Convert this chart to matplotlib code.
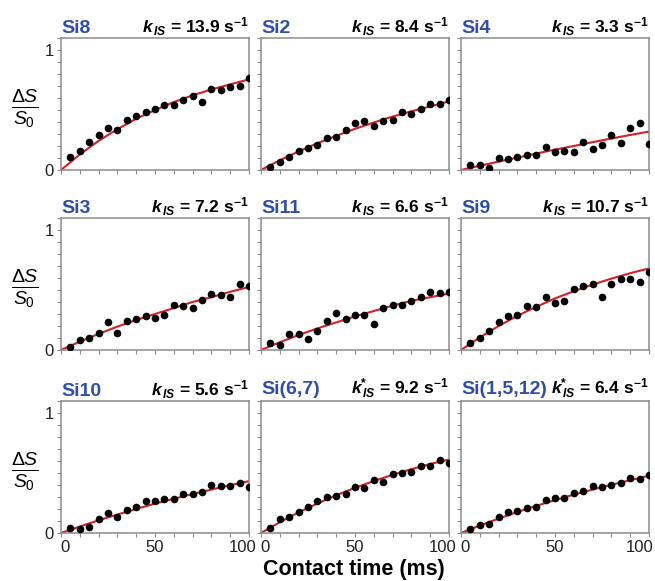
#!/usr/bin/env python3

import matplotlib
matplotlib.use('Agg')
import matplotlib.pyplot as plt
import matplotlib.transforms as mtransforms
from matplotlib.ticker import MultipleLocator, FixedLocator


# ------------------------------------------------------------------------------
# data
#
t_ms  = [5, 10, 15, 20, 25, 30, 35, 40, 45, 50,
         55, 60, 65, 70, 75, 80, 85, 90, 95, 100]
fit_t = [0, 10, 20, 30, 40, 50, 60, 70, 80, 90, 100]

names = ['Si8', 'Si2', 'Si4',
         'Si3', 'Si11', 'Si9',
         'Si10', 'Si(6,7)', 'Si(1,5,12)']
k_is  = ['13.9', '8.4', '3.3',
         '7.2', '6.6', '10.7',
         '5.6', '9.2', '6.4']
star  = [False, False, False,
         False, False, False,
         False, True, True]

si8_pts  = [0.11, 0.155, 0.23, 0.29, 0.35, 0.335, 0.42, 0.45, 0.48, 0.51,
            0.54, 0.54, 0.58, 0.62, 0.57, 0.675, 0.665, 0.69, 0.70, 0.77]
si2_pts  = [0.022, 0.067, 0.11, 0.16, 0.18, 0.21, 0.27, 0.275, 0.33, 0.39,
            0.405, 0.365, 0.41, 0.415, 0.48, 0.465, 0.51, 0.55, 0.55, 0.58]
si4_pts  = [0.044, 0.039, 0.02, 0.097, 0.089, 0.105, 0.122, 0.128, 0.195, 0.153,
            0.158, 0.147, 0.23, 0.178, 0.208, 0.295, 0.225, 0.353, 0.39, 0.217]
si3_pts  = [0.028, 0.083, 0.10, 0.138, 0.23, 0.14, 0.24, 0.26, 0.285, 0.27,
            0.29, 0.375, 0.365, 0.35, 0.42, 0.47, 0.46, 0.44, 0.55, 0.53]
si11_pts = [0.055, 0.044, 0.13, 0.13, 0.094, 0.155, 0.24, 0.31, 0.257, 0.295,
            0.29, 0.22, 0.35, 0.375, 0.375, 0.41, 0.445, 0.485, 0.475, 0.48]
si9_pts  = [0.058, 0.097, 0.16, 0.23, 0.287, 0.295, 0.365, 0.36, 0.44, 0.39,
            0.41, 0.506, 0.53, 0.55, 0.44, 0.55, 0.59, 0.59, 0.57, 0.65]
si10_pts = [0.039, 0.033, 0.05, 0.114, 0.164, 0.13, 0.194, 0.214, 0.27, 0.267,
            0.283, 0.28, 0.322, 0.325, 0.342, 0.40, 0.394, 0.394, 0.414, 0.38]
si67_pts = [0.042, 0.114, 0.136, 0.175, 0.22, 0.264, 0.30, 0.305, 0.322, 0.383,
            0.372, 0.44, 0.428, 0.49, 0.503, 0.508, 0.56, 0.556, 0.608, 0.583]
si1512_pts = [0.033, 0.067, 0.075, 0.136, 0.172, 0.186, 0.208, 0.22, 0.272, 0.29,
              0.29, 0.33, 0.347, 0.39, 0.38, 0.397, 0.42, 0.46, 0.45, 0.486]

si8_fit  = [0, 0.13, 0.243, 0.34, 0.427, 0.50, 0.566, 0.622, 0.671, 0.714, 0.755]
si2_fit  = [0, 0.081, 0.155, 0.223, 0.285, 0.343, 0.396, 0.445, 0.489, 0.530, 0.572]
si4_fit  = [0, 0.035, 0.07, 0.103, 0.137, 0.17, 0.20, 0.232, 0.262, 0.292, 0.32]
si3_fit  = [0, 0.07, 0.134, 0.195, 0.25, 0.30, 0.35, 0.40, 0.44, 0.485, 0.525]
si11_fit = [0, 0.065, 0.125, 0.18, 0.23, 0.28, 0.325, 0.37, 0.41, 0.44, 0.47]
si9_fit  = [0, 0.105, 0.20, 0.285, 0.36, 0.43, 0.49, 0.545, 0.595, 0.64, 0.68]
si10_fit = [0, 0.054, 0.106, 0.154, 0.20, 0.245, 0.285, 0.325, 0.362, 0.398, 0.432]
si67_fit = [0, 0.09, 0.172, 0.246, 0.314, 0.377, 0.433, 0.485, 0.532, 0.575, 0.612]
si1512_fit = [0, 0.062, 0.12, 0.175, 0.226, 0.274, 0.32, 0.362, 0.402, 0.44, 0.478]

points = [si8_pts, si2_pts, si4_pts,
          si3_pts, si11_pts, si9_pts,
          si10_pts, si67_pts, si1512_pts]
fits   = [si8_fit, si2_fit, si4_fit,
          si3_fit, si11_fit, si9_fit,
          si10_fit, si67_fit, si1512_fit]

name_color  = '#2f4ea6'
fit_color   = '#d42027'
spine_color = '#8c8c8c'

plt.rcParams['font.family']      = ['Liberation Sans', 'DejaVu Sans']
plt.rcParams['mathtext.fontset'] = 'custom'
plt.rcParams['mathtext.rm']      = 'Liberation Sans'
plt.rcParams['mathtext.it']      = 'Liberation Sans:italic'
plt.rcParams['mathtext.bf']      = 'Liberation Sans:bold'
plt.rcParams['mathtext.bfit']    = 'Liberation Sans:italic:bold'


# ------------------------------------------------------------------------------
#
def k_label(k, is_star):

    sup = r'^{\mathbf{*}}' if is_star else ''
    return r'$\mathbfit{k}%s_{\,\mathbfit{IS}}$ = %s s$^{\mathbf{-1}}$' % (sup, k)


# ------------------------------------------------------------------------------
#
def plot_panels():

    W, H = 655, 581
    fig  = plt.figure(figsize=(W / 100, H / 100), dpi=100)

    lefts  = [61, 261, 461]
    tops   = [38, 218, 401]
    width  = 188
    height = 132

    for i in range(9):
        row, col = divmod(i, 3)
        x0 = lefts[col]
        y0 = tops[row]
        ax = fig.add_axes([x0 / W, 1 - (y0 + height) / H, width / W, height / H])

        ax.plot(fit_t, fits[i], color=fit_color, lw=1.5, zorder=2)
        ax.plot(t_ms, points[i], 'o', color='black', ms=5.5, mew=0, zorder=3)

        ax.set_xlim(0, 100)
        ax.set_ylim(0, 1.1)

        ax.xaxis.set_major_locator(FixedLocator([0, 50, 100]))
        ax.xaxis.set_minor_locator(MultipleLocator(10))
        ax.yaxis.set_major_locator(FixedLocator([0, 1]))
        ax.yaxis.set_minor_locator(MultipleLocator(0.1))
        ax.tick_params(which='both', direction='out', color=spine_color,
                       length=3, width=0.8, labelsize=12,
                       labelcolor='#222222', pad=2)

        for sp in ax.spines.values():
            sp.set_color(spine_color)
            sp.set_linewidth(1.1)

        if col != 0:
            ax.set_yticklabels([])
        else:
            ax.text(-0.19, 0.46, r'$\frac{\Delta S}{S_0}$', fontsize=20,
                    transform=ax.transAxes, ha='center', va='center')
        if row != 2:
            ax.set_xticklabels([])
        else:
            # nudge the end labels inward, as in the original
            labels = ax.get_xticklabels()
            shifts = [4, 0, -9 if col == 2 else -6]
            for lab, dx in zip(labels, shifts):
                off = mtransforms.ScaledTranslation(dx / 100, 0,
                                                    fig.dpi_scale_trans)
                lab.set_transform(lab.get_transform() + off)

        ax.set_title(names[i], loc='left', color=name_color,
                     fontsize=14, fontweight='bold', pad=3)
        ax.set_title(k_label(k_is[i], star[i]), loc='right',
                     fontsize=12.5, fontweight='bold', pad=3)

    fig.text(354 / W, 1 - 570 / H, 'Contact time (ms)', ha='center',
             va='center', fontsize=15.5, fontweight='bold')

    fig.savefig('out.png', dpi=100)


# ------------------------------------------------------------------------------
#
def main():

    plot_panels()


# ------------------------------------------------------------------------------
#
if __name__ == '__main__':

    main()


# ------------------------------------------------------------------------------
